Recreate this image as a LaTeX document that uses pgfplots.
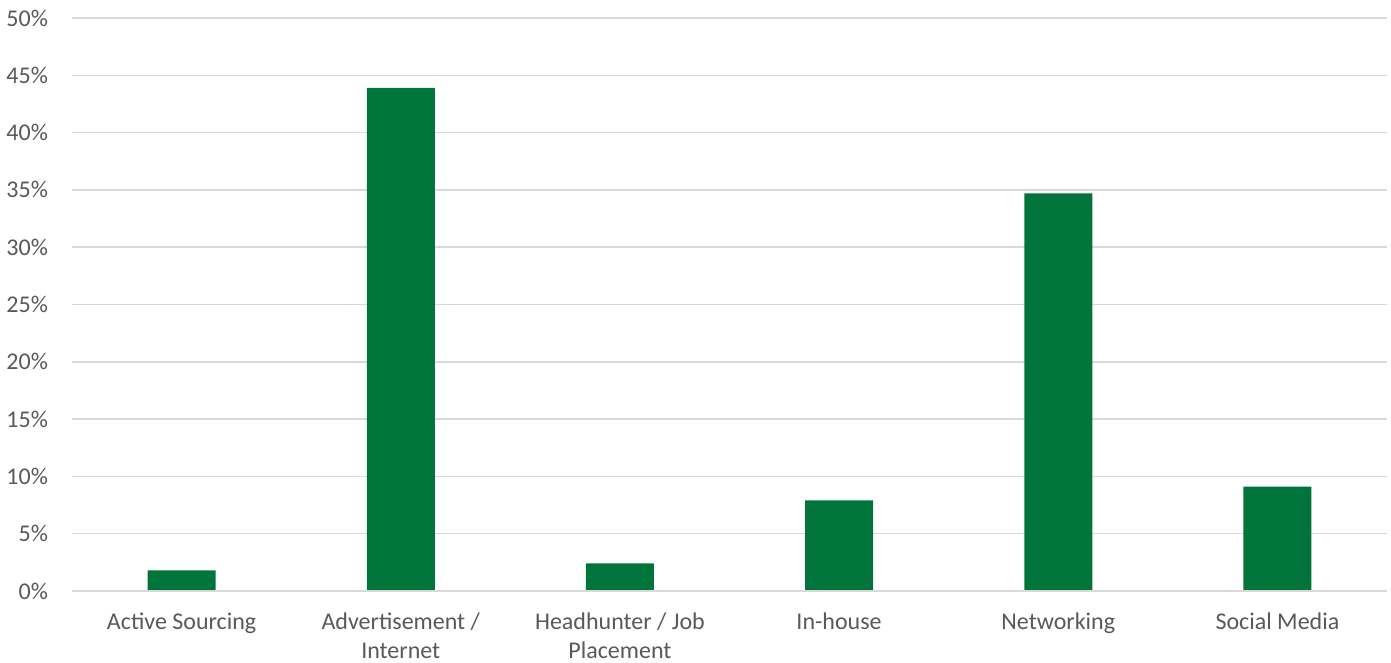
\documentclass[border=0pt]{standalone}
\usepackage{fontspec}
\setmainfont{Carlito}
\usepackage{pgfplots}
\pgfplotsset{compat=1.18}
\definecolor{bargreen}{HTML}{00743A}
\definecolor{gridgray}{HTML}{D9D9D9}
\definecolor{textgray}{HTML}{595959}
\begin{document}
\begin{tikzpicture}
\begin{axis}[
    name=ax,
    scale only axis,
    width=657.5pt, height=286.5pt,
    xmin=-0.5, xmax=5.5,
    ymin=0, ymax=50,
    ytick={0,5,...,50},
    yticklabel={\pgfmathprintnumber{\tick}\%},
    /pgf/number format/assume math mode=true,
    xtick=data,
    xticklabels={Active Sourcing, {Advertisement /\\Internet}, {Headhunter / Job\\Placement}, In-house, Networking, Social Media},
    xticklabel style={align=center, font=\fontsize{12}{14.5}\selectfont, text=textgray, yshift=-3pt},
    yticklabel style={font=\fontsize{12}{14.5}\selectfont, text=textgray, xshift=-8.5pt},
    axis line style={draw=none},
    axis x line*=bottom,
    tick style={draw=none},
    ymajorgrids,
    grid style={gridgray, line width=0.75pt},
    ybar, bar width=34pt,
    clip=false,
]
\addplot[fill=bargreen, draw=none] coordinates {
    (0, 1.8) (1, 43.9) (2, 2.4) (3, 7.9) (4, 34.7) (5, 9.1)
};
\draw[gridgray, line width=0.75pt] (axis cs:-0.5,0) -- (axis cs:5.5,0);
\end{axis}
\pgfresetboundingbox
\path (ax.south west) ++(-36pt,-36pt) coordinate (bl);
\path (ax.north east) ++(2pt,9pt) coordinate (tr);
\path[use as bounding box] (bl) rectangle (tr);
\end{tikzpicture}
\end{document}
